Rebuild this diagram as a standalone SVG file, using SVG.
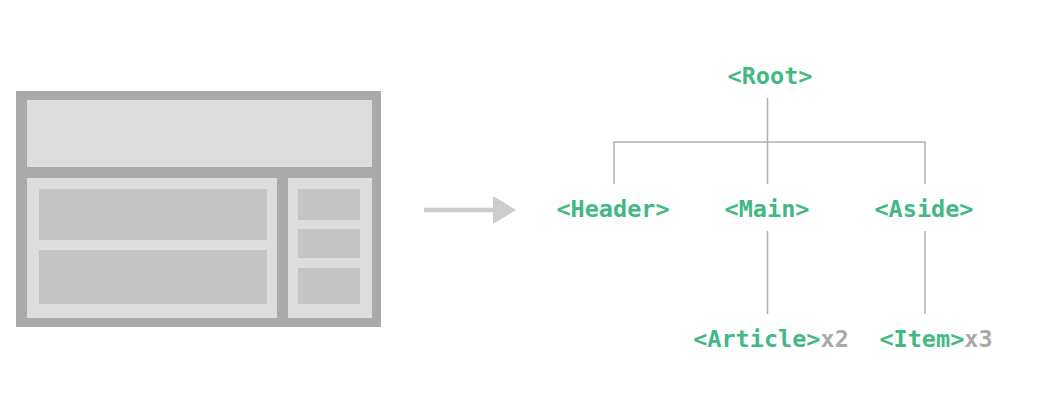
<svg xmlns="http://www.w3.org/2000/svg" width="1050" height="416" viewBox="0 0 1050 416">
  <style>
    .frame { fill: #aaaaaa; }
    .panel { fill: #dddddd; }
    .block { fill: #c4c4c4; }
    .link { stroke: #b0b0b0; stroke-width: 1.5; fill: none; }
    .tag { font-family: "DejaVu Sans Mono", "Liberation Mono", monospace; font-weight: bold; font-size: 23.5px; fill: #42b883; text-anchor: middle; }
    .count { fill: #aaaaaa; }
  </style>

  <!-- page layout sketch -->
  <g id="layout">
    <rect class="frame" x="16" y="91" width="365" height="236"/>
    <rect class="panel" x="27" y="100" width="345" height="67"/>
    <rect class="panel" x="27" y="178" width="250" height="140"/>
    <rect class="panel" x="288" y="178" width="84" height="140"/>
    <rect class="block" x="39" y="189" width="228" height="51"/>
    <rect class="block" x="39" y="250" width="228" height="54"/>
    <rect class="block" x="298" y="189" width="62" height="31"/>
    <rect class="block" x="298" y="229" width="62" height="29"/>
    <rect class="block" x="298" y="268" width="62" height="36"/>
  </g>

  <!-- transform arrow -->
  <g id="arrow">
    <line x1="424" y1="210" x2="496" y2="210" stroke="#cccccc" stroke-width="4.5"/>
    <polygon points="493,196 516,210 493,224" fill="#cccccc"/>
  </g>

  <!-- tree connectors -->
  <g id="connectors">
    <path class="link" d="M767.5 98 V142 M614 184 V142 H925 V184 M767.5 142 V184"/>
    <path class="link" d="M767.5 231 V314 M925 231 V314"/>
  </g>

  <g id="root"><text class="tag" x="770" y="84">&lt;Root&gt;</text></g>
  <g id="header"><text class="tag" x="613" y="217">&lt;Header&gt;</text></g>
  <g id="main"><text class="tag" x="767" y="217">&lt;Main&gt;</text></g>
  <g id="aside"><text class="tag" x="924" y="217">&lt;Aside&gt;</text></g>
  <g id="article"><text class="tag" x="771" y="347">&lt;Article&gt;<tspan class="count">x2</tspan></text></g>
  <g id="item"><text class="tag" x="936" y="347">&lt;Item&gt;<tspan class="count">x3</tspan></text></g>
</svg>
